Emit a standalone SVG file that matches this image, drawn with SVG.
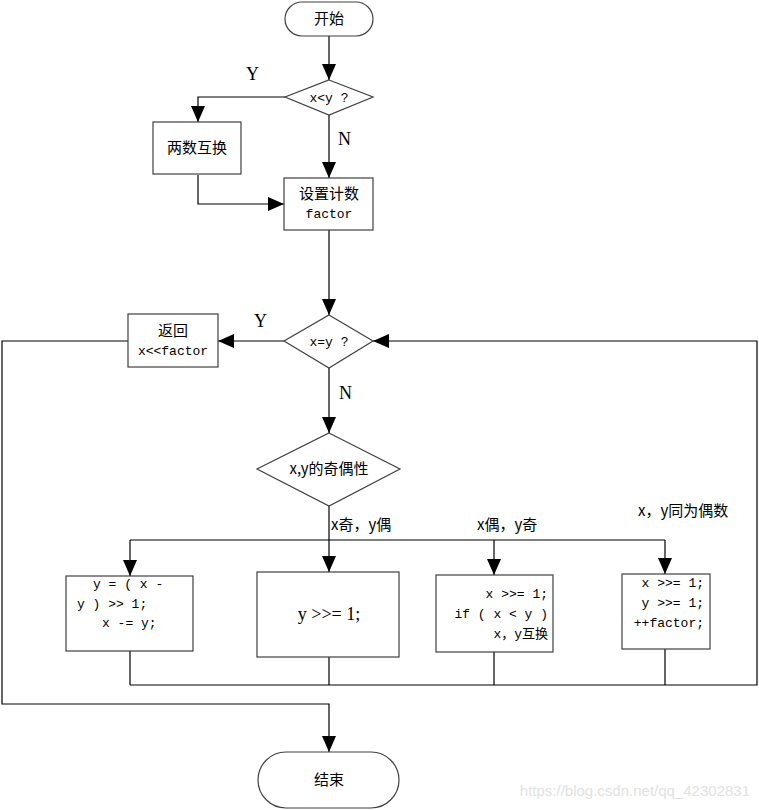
<svg xmlns="http://www.w3.org/2000/svg" width="759" height="810" viewBox="0 0 759 810">
<defs>
<marker id="ah" markerUnits="userSpaceOnUse" markerWidth="16" markerHeight="14" refX="16" refY="7" orient="auto">
<path d="M0,0 L16,7 L0,14 z" fill="#000"/>
</marker>
<style>
.n{fill:#fff;stroke:#404040;stroke-width:1.2}
.c{fill:none;stroke:#000;stroke-width:1.2}
.t{font-family:"Noto Sans CJK SC","Liberation Sans",sans-serif;font-size:15px;fill:#000}
.m{font-family:"Liberation Mono","Noto Sans CJK SC",monospace;font-size:13px;fill:#000}
.l{font-family:"Liberation Serif",serif;font-size:18px;fill:#000}
</style>
</defs>
<rect width="759" height="810" fill="#fff"/>
<g id="connectors">
<path class="c" d="M329,36 V80" marker-end="url(#ah)"/>
<path class="c" d="M285,97 H198 V122" marker-end="url(#ah)"/>
<path class="c" d="M329,115 V178" marker-end="url(#ah)"/>
<path class="c" d="M198,175 V204 H284" marker-end="url(#ah)"/>
<path class="c" d="M329,230 V315" marker-end="url(#ah)"/>
<path class="c" d="M284,341 H218" marker-end="url(#ah)"/>
<path class="c" d="M128,341 H2 V704 H329 V752" marker-end="url(#ah)"/>
<path class="c" d="M329,368 V433" marker-end="url(#ah)"/>
<path class="c" d="M329,506 V572" marker-end="url(#ah)"/>
<path class="c" d="M130,540 H665"/>
<path class="c" d="M130,540 V576" marker-end="url(#ah)"/>
<path class="c" d="M494,540 V575" marker-end="url(#ah)"/>
<path class="c" d="M665,540 V574" marker-end="url(#ah)"/>
<path class="c" d="M130,651 V685 M329,657 V685 M494,652 V685 M665,649 V685"/>
<path class="c" d="M130,685 H757 V341 H373" marker-end="url(#ah)"/>
<text class="l" x="246" y="80">Y</text>
<text class="l" x="338" y="145">N</text>
<text class="l" x="254" y="327">Y</text>
<text class="l" x="339" y="399">N</text>
<text class="t" x="331" y="530">x奇，y偶</text>
<text class="t" x="477" y="530">x偶，y奇</text>
<text class="t" x="638" y="516">x，y同为偶数</text>
</g>
<g id="start"><rect class="n" x="285" y="2" width="88" height="34" rx="17"/><text class="t" x="329" y="24" text-anchor="middle">开始</text></g>
<g id="cmp1"><polygon class="n" points="329,80 373,97 329,115 285,97"/><text class="m" x="329" y="102" text-anchor="middle">x&lt;y ?</text></g>
<g id="swap"><rect class="n" x="153" y="122" width="88" height="52"/><text class="t" x="197" y="153" text-anchor="middle">两数互换</text></g>
<g id="init"><rect class="n" x="284" y="178" width="89" height="52"/><text class="t" x="329" y="199" text-anchor="middle">设置计数</text><text class="m" x="329" y="218" text-anchor="middle">factor</text></g>
<g id="cmp2"><polygon class="n" points="329,315 373,341 329,368 284,341"/><text class="m" x="329" y="346" text-anchor="middle">x=y ?</text></g>
<g id="ret"><rect class="n" x="128" y="314" width="90" height="53"/><text class="t" x="173" y="336" text-anchor="middle">返回</text><text class="m" x="173" y="355" text-anchor="middle">x&lt;&lt;factor</text></g>
<g id="parity"><polygon class="n" points="329,433 400,469 329,506 257,469"/><text class="t" x="329" y="474" text-anchor="middle">x,y的奇偶性</text></g>
<g id="b1"><rect class="n" x="66" y="576" width="127" height="75"/><text class="m" x="93" y="588">y = ( x -</text><text class="m" x="77" y="608">y ) &gt;&gt; 1;</text><text class="m" x="102" y="627">x -= y;</text></g>
<g id="b2"><rect class="n" x="257" y="572" width="142" height="85"/><text class="l" x="329" y="620" text-anchor="middle">y &gt;&gt;= 1;</text></g>
<g id="b3"><rect class="n" x="436" y="575" width="117" height="77"/><text class="m" x="548" y="598" text-anchor="end">x &gt;&gt;= 1;</text><text class="m" x="548" y="618" text-anchor="end">if ( x &lt; y )</text><text class="m" x="548" y="638" text-anchor="end">x，y互换</text></g>
<g id="b4"><rect class="n" x="622" y="574" width="88" height="75"/><text class="m" x="704" y="587" text-anchor="end">x &gt;&gt;= 1;</text><text class="m" x="704" y="607" text-anchor="end">y &gt;&gt;= 1;</text><text class="m" x="704" y="627" text-anchor="end">++factor;</text></g>
<g id="end"><rect class="n" x="258" y="752" width="141" height="56" rx="28"/><text class="t" x="329" y="785" text-anchor="middle">结束</text></g>
<text x="750" y="796" text-anchor="end" font-family="Liberation Sans,sans-serif" font-size="15" fill="#e2e2e2">https://blog.csdn.net/qq_42302831</text>
</svg>
